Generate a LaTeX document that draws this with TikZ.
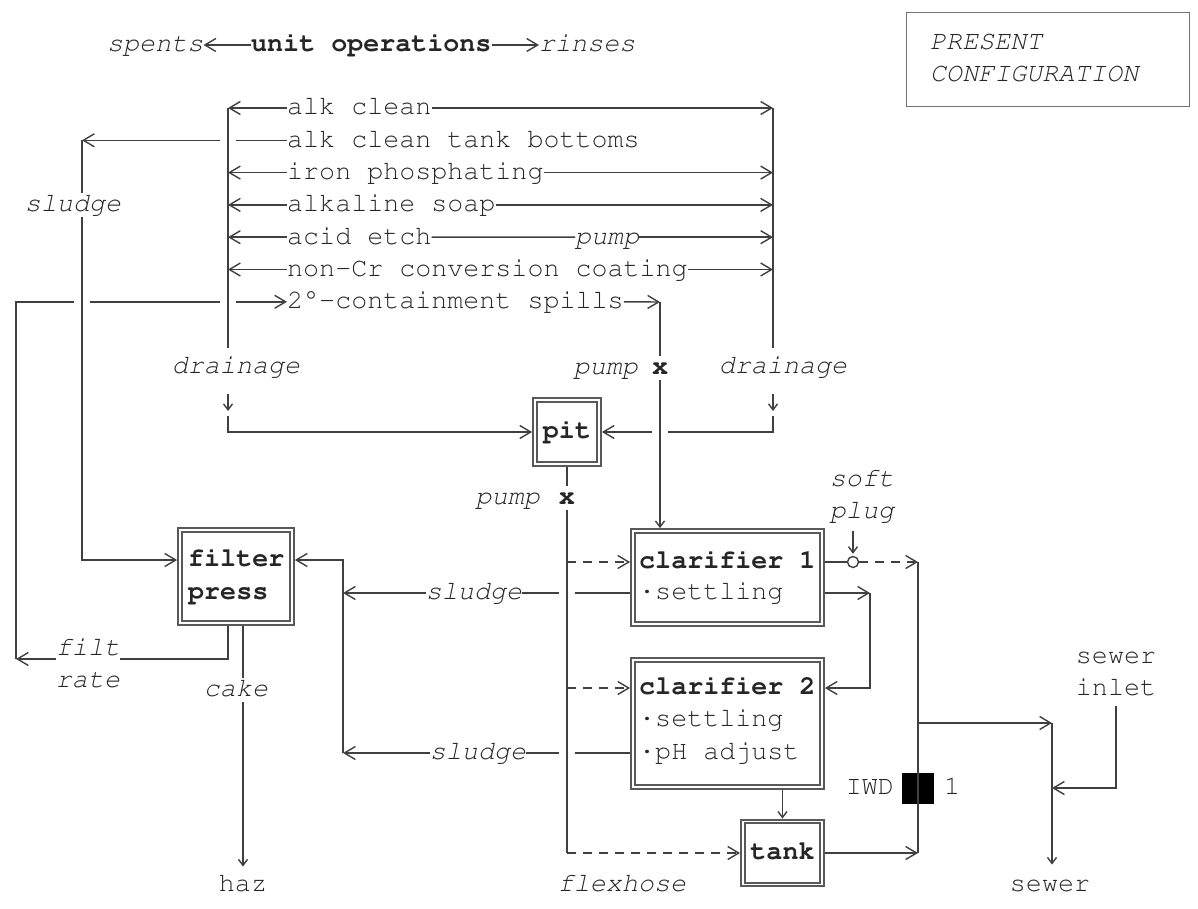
\documentclass[tikz,border=0pt]{standalone}
\usepackage{courier}
\usetikzlibrary{arrows.meta,positioning}

\newcommand{\cfont}{\fontencoding{OT1}\fontfamily{pcr}\fontsize{26.7pt}{32.3pt}\selectfont}

\tikzset{
  txt/.style={text height=19.2pt, text depth=5.3pt},
  lbl/.style={txt, font=\cfont\itshape},
  lbltwo/.style={font=\cfont\itshape, align=center},
  bld/.style={txt, font=\cfont\bfseries},
  unit/.style={bld, draw=black!65, line width=2pt, double=white, double distance=1.8pt, outer sep=2.9pt},
  wire/.style={draw=black!75, line width=1.4pt},
  arr/.style={wire, -{Straight Barb[length=11pt,width=13pt]}},
  dn/.style={wire, -{Straight Barb[length=6pt,width=9pt]}},
  flex/.style={arr, dash pattern=on 9pt off 7pt},
  hop/.style={preaction={draw=white, line width=16pt, -}},
}

\begin{document}
\begin{tikzpicture}[x=1pt, y=-1pt, every node/.style={font=\cfont, inner sep=0pt, text=black!85}]
  % page
  \fill[white] (0,0) rectangle (1198,909);
  \useasboundingbox (0,0) rectangle (1198,909);

  % heading
  \node[lbl, anchor=west] (spents) at (107,45) {spents};
  \node[bld, anchor=west] (unitops) at (251,45) {unit operations};
  \node[lbl, anchor=west] (rinses) at (539,45) {rinses};
  \draw[arr] (unitops.west) -- (spents.east);
  \draw[arr] (unitops.east) -- (rinses.west);

  \node[draw=black!55, line width=1.2pt, minimum width=283pt, minimum height=94pt] (present) at (1048,59.5) {};
  \node[lbl, anchor=west] (presA) at (930,43) {PRESENT};
  \node[lbl, anchor=west] (presB) at (930,75) {CONFIGURATION};

  % unit operations
  \foreach \op [count=\i] in {alk clean, alk clean tank bottoms, iron phosphating, alkaline soap, acid etch, non-Cr conversion coating, 2\textdegree-containment spills}
    \node[txt, anchor=west] (r\i) at (287, 75.7+32.3*\i) {\op};
  \node[lbl, anchor=west] (pumpR) at (575,237.2) {pump};

  % treatment units
  \node[unit, minimum width=112pt, minimum height=93pt] (fp) at (236,576.5) {};
  \node[bld, anchor=west] (fpA) at (188,560) {filter};
  \node[bld, anchor=west] (fpB) at (188,593) {press};
  \node[unit, minimum width=64pt, minimum height=64pt] (pit) at (567,432) {pit};
  \node[unit, minimum width=189pt, minimum height=93pt] (cl1) at (727.5,577.5) {};
  \node[bld, anchor=west] (c1a) at (639,562) {clarifier 1};
  \node[txt, anchor=west] (c1b) at (639,593) {\textperiodcentered{}settling};
  \node[unit, minimum width=189pt, minimum height=127pt] (cl2) at (727.5,723.5) {};
  \node[bld, anchor=west] (c2a) at (639,688) {clarifier 2};
  \node[txt, anchor=west] (c2b) at (639,720) {\textperiodcentered{}settling};
  \node[txt, anchor=west] (c2c) at (639,753) {\textperiodcentered{}pH adjust};
  \node[unit, minimum width=79pt, minimum height=63pt] (tank) at (782.5,853) {tank};

  % labels
  \node[lbl] (drainL) at (236,367) {drainage};
  \node[lbl] (drainR) at (783,367) {drainage};
  \node[lbl, anchor=east] (pumpA) at (638,368) {pump};
  \node[bld] (xA) at (660,368) {x};
  \node[lbl, anchor=east] (pumpB) at (540,498) {pump};
  \node[bld] (xB) at (567,498) {x};
  \node[lbl] (sludgeL) at (73,205) {sludge};
  \node[lbl] (sludgeA) at (474,593) {sludge};
  \node[lbl] (sludgeB) at (478,753) {sludge};
  \node[lbltwo] (filtrate) at (88,663) {filt\\rate};
  \node[lbl] (cake) at (236,690) {cake};
  \node[txt] (haz) at (243,885) {haz};
  \node[lbl] (flexhose) at (622,885) {flexhose};
  \node[lbltwo] (softplug) at (862,496) {soft\\plug};
  \node[circle, draw=black!75, line width=1.4pt, minimum size=11pt] (plug) at (853,562) {};
  \node[fill=black, minimum width=32pt, minimum height=31pt] (iwd) at (918,788) {};
  \node[txt, anchor=east] (iwdA) at (894,788) {IWD};
  \node[txt, anchor=west] (iwdB) at (944,788) {1};
  \node[txt] (sewer) at (1050,885) {sewer};
  \node[font=\cfont, align=center] (inlet) at (1116,674) {sewer\\inlet};

  % corners
  \coordinate (lbtop) at (228,108);
  \coordinate (rbtop) at (773,108);
  \coordinate (sbk) at (82,140.3);
  \coordinate (fl) at (16,659);
  \coordinate (ftx) at (228,659);
  \coordinate (spk) at (660,302);
  \coordinate (dLk) at (228,432);
  \coordinate (dRk) at (773,432);
  \coordinate (sb1) at (343,560);
  \coordinate (fhk) at (567,853);
  \coordinate (ok) at (918,562);
  \coordinate (ob) at (918,853);
  \coordinate (sk) at (1052,723);
  \coordinate (ik) at (1116,788);
  \coordinate (rk) at (870,593);

  % filtrate back to containment
  \draw[wire] (fp.south -| ftx) -- (ftx) -- (ftx -| filtrate.east);
  \draw[arr] (ftx -| filtrate.west) -- (fl);
  \draw[arr] (fl) |- (r7.west);

  % tank bottoms to filter press
  \draw[arr] (r2.west) -- (sbk);
  \draw[wire] (sbk) -- (sludgeL.north -| sbk);
  \draw[arr, hop] (sludgeL.south -| sbk) -- (sbk |- fpA) -- (fp.west |- fpA);

  % spents and rinses
  \draw[wire, hop, shorten >=7pt] (lbtop) -- (drainL.north -| lbtop);
  \draw[wire, shorten >=7pt] (rbtop) -- (drainR.north -| rbtop);
  \foreach \i in {1,3,4,5,6}
    \draw[arr] (r\i.west) -- (r\i.west -| lbtop);
  \foreach \i in {1,3,4,6}
    \draw[arr] (r\i.east) -- (r\i.east -| rbtop);
  \draw[wire] (r5.east) -- (pumpR.west);
  \draw[arr] (pumpR.east) -- (pumpR.east -| rbtop);

  % drainage to pit
  \draw[dn] ([yshift=38pt]dLk) -- ([yshift=21pt]dLk);
  \draw[arr] ([yshift=16pt]dLk) -- (dLk) -- (pit.west);
  \draw[dn] ([yshift=38pt]dRk) -- ([yshift=21pt]dRk);
  \draw[arr] ([yshift=16pt]dRk) -- (dRk) -- (pit.east);

  % spills
  \draw[arr] (r7.east) -- (spk);
  \draw[wire] (spk) -- (xA.north);
  \draw[dn, hop] (xA.south) -- (xA.south |- cl1.north);

  % sludge
  \draw[wire] (cl1.west |- sludgeA) -- (sludgeA.east);
  \draw[arr] (sludgeA.west) -- (sludgeA -| sb1);
  \draw[wire] (cl2.west |- sludgeB) -- (sludgeB.east);
  \draw[arr] (sludgeB.west) -- (sludgeB -| sb1);
  \draw[arr] (sludgeB -| sb1) -- (sb1) -- (fp.east |- sb1);

  % pit pump
  \draw[wire] (pit.south) -- (xB.north);
  \draw[wire, hop] (xB.south) -- (fhk);
  \draw[flex] (xB |- c1a) -- (cl1.west |- c1a);
  \draw[flex] (xB |- c2a) -- (cl2.west |- c2a);
  \draw[flex] (fhk) -- (tank.west);

  % cake
  \draw[wire] (fp.south -| haz) -- (haz |- cake.north);
  \draw[dn, shorten >=6pt] (haz |- cake.south) -- (haz.north);

  % outfall
  \draw[wire] (cl1.east |- c1a) -- (plug.west);
  \draw[dn, shorten <=8pt, shorten >=2pt] (softplug.south -| plug) -- (plug.north);
  \draw[arr, dash pattern=on 9pt off 7pt] (plug.east) -- (ok);
  \draw[arr] (cl1.east |- c1b) -- (rk);
  \draw[arr] (rk) |- (cl2.east |- c2a);
  \draw[dn] (tank.north |- cl2.south) -- (tank.north);
  \draw[wire] (ok) -- (ob);
  \draw[arr] (tank.east) -- (ob);
  \draw[arr] (ok |- sk) -- (sk);
  \draw[dn, shorten >=8pt] (sk) -- (sk |- sewer.north);
  \draw[arr, shorten <=10pt] (inlet.south) -- (ik) -- (ik -| sk);
\end{tikzpicture}
\end{document}
